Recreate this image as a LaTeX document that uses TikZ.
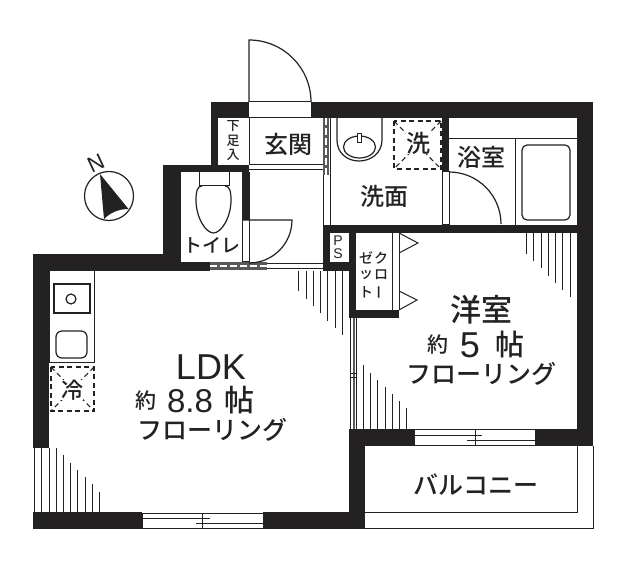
\documentclass[tikz,border=0pt]{standalone}
\usepackage{fontspec}
\setmainfont{Liberation Sans}
\newfontfamily\jpfont{Noto Sans CJK JP Medium}
\usetikzlibrary{arrows.meta, calc}
\definecolor{wallBlack}{RGB}{35,33,34}
\tikzset{
	wall/.style={fill=wallBlack},
	thinline/.style={wallBlack, line width=1pt},
	fixture/.style={wallBlack, line width=1.2pt},
	hatch/.style={wallBlack, line width=1pt},
	dashbox/.style={wallBlack, line width=1.1pt, dash pattern=on 5pt off 3.5pt},
	jplabel/.style={font=\jpfont\fontsize{#1}{#1}\selectfont, text=wallBlack, inner sep=0pt},
	latlabel/.style={font=\fontsize{#1}{#1}\selectfont, text=wallBlack, inner sep=0pt}
}
\begin{document}
\begin{tikzpicture}[x=1pt, y=-1pt, line cap=butt]
	\useasboundingbox (0,0) rectangle (640,561);
	\fill[white] (0,0) rectangle (640,561);
	% walls
	\fill[wall] (211,102) rectangle (249,118);
	\fill[wall] (211,102) rectangle (218,172);
	\fill[wall] (163,165) rectangle (249,172);
	\fill[wall] (163,165) rectangle (181,271);
	\fill[wall] (242,165) rectangle (249,220);
	\fill[wall] (33,254) rectangle (181,271);
	\fill[wall] (181,262) rectangle (210,271);
	\fill[wall] (33,254) rectangle (49,448);
	\fill[wall] (33,512) rectangle (142,529);
	\fill[wall] (263,512) rectangle (365,529);
	\fill[wall] (349,429) rectangle (365,529);
	\fill[wall] (349,429) rectangle (414,446);
	\fill[wall] (535,429) rectangle (593,446);
	\fill[wall] (311,102) rectangle (593,118);
	\fill[wall] (577,102) rectangle (593,446);
	\fill[wall] (323,225) rectangle (593,233);
	\fill[wall] (323,225) rectangle (330,271);
	\fill[wall] (349,233) rectangle (356,318);
	\fill[wall] (323,262) rectangle (356,271);
	\fill[wall] (350,310) rectangle (399,318);
	\fill[wall] (442,118) rectangle (449,172);
	% sliding doors
	\fill[wallBlack!75] (323,118) rectangle (329,175);
	\draw[white, line width=1.2pt, dash pattern=on 7pt off 3pt] (326,118) -- (326,175);
	\fill[wallBlack!75] (210,262) rectangle (267,270);
	\draw[white, line width=1.8pt, dash pattern=on 7pt off 3pt] (210,266) -- (267,266);
	\draw[thinline] (267,263.5) -- (323,263.5);
	\draw[thinline] (267,269) -- (323,269);
	\draw[thinline] (323,175) -- (323,225);
	\draw[thinline] (330,118) -- (330,225);
	% entry door
	\draw[thinline] (249,102) -- (311,102);
	\draw[thinline] (249,118) -- (311,118);
	\draw[fixture] (249,102) -- (249,40) arc [start angle=-90, end angle=0, radius=62];
	\draw[thinline] (249,118) -- (249,165);
	\draw[thinline] (249,164.5) -- (323,164.5);
	\draw[thinline] (249,170) -- (323,170);
	\draw[thinline] (249,172) -- (249,262);
	% toilet
	\draw[thinline] (199,172) -- (199,186) -- (229,186) -- (229,172);
	\draw[fixture] (202,186) .. controls (197,186) and (196,192) .. (196,200) .. controls (196,218) and (206,233) .. (213.5,233) .. controls (221,233) and (231,218) .. (231,200) .. controls (231,192) and (230,186) .. (225,186);
	\draw[thinline] (242,220) -- (242,262) -- (249,262);
	\draw[fixture] (242,220) -- (292,220) arc [start angle=0, end angle=90, radius=43];
	% wash room
	\draw[fixture] (337,118) -- (337,140) .. controls (337,153) and (347,161) .. (359,161) .. controls (371,161) and (382,153) .. (382,140) -- (382,118);
	\draw[fixture] (359.5,147) ellipse [x radius=16, y radius=11];
	\draw[thinline, fill=white] (357.5,134) rectangle (361.5,143);
	\draw[dashbox] (394,121) rectangle (441,169);
	\draw[dashbox] (394,121) -- (441,169);
	\draw[dashbox] (441,121) -- (394,169);
	\draw[thinline] (442,172) rectangle (449,225);
	\draw[fixture] (449,172) arc [start angle=-90, end angle=0, radius=52];
	% bath
	\draw[thinline] (449,139) -- (577,139);
	\draw[thinline] (515,139) -- (515,225);
	\draw[fixture, rounded corners=5pt] (522,145) rectangle (570,220);
	% closet
	\draw[thinline] (392,233) -- (392,310);
	\draw[thinline] (399,233) -- (399,310);
	\draw[thinline] (399,233) -- (418,243) -- (399,253);
	\draw[thinline] (399,291) -- (417,300) -- (399,310);
	% kitchen
	\draw[thinline] (49,271) rectangle (94,362);
	\draw[fixture] (54,284) rectangle (90,313);
	\draw[fixture] (71,299) circle (5);
	\draw[fixture, rounded corners=6pt] (56,331) rectangle (87,358);
	\draw[dashbox] (51,367) rectangle (94,411);
	\draw[dashbox] (51,367) -- (94,411);
	\draw[dashbox] (94,367) -- (51,411);
	% hatching
	\foreach \xh/\yh in {34/448,41/448,49/448,56/448,63/455,70/463,77/470,85/477,92/484,99/492}
		\draw[hatch] (\xh,\yh) -- (\xh,512);
	\foreach \xh/\yh in {298/291,306/299,313/306,320/313,327/321,335/328,342/335}
		\draw[hatch] (\xh,271) -- (\xh,\yh);
	\foreach \xh/\yh in {526/254,533/261,541/268,548/276,555/283,562/290,570/297}
		\draw[hatch] (\xh,233) -- (\xh,\yh);
	\foreach \xh/\yh in {356/318,363/365,370/373,377/380,385/387,392/394,399/401,406/408}
		\draw[hatch] (\xh,\yh) -- (\xh,429);
	% window to the west room
	\draw[thinline] (350,318) -- (350,429);
	\draw[wallBlack!75, line width=2pt] (353.5,318) -- (353.5,429);
	\draw[thinline] (356,318) -- (356,429);
	\draw[thinline] (350,373) -- (356,373);
	\draw[thinline] (350,377) -- (356,377);
	% windows
	\draw[thinline] (142,513) rectangle (263,528);
	\draw[thinline] (142,518) -- (210,518);
	\draw[thinline] (196,523.5) -- (263,523.5);
	\draw[thinline] (202.5,513) -- (202.5,528);
	\draw[thinline] (414,429.5) rectangle (535,445);
	\draw[thinline] (414,435) -- (482,435);
	\draw[thinline] (467,440) -- (535,440);
	\draw[thinline] (475,429.5) -- (475,445);
	% balcony
	\draw[thinline] (365,512) -- (577,512) -- (577,446);
	\draw[thinline] (365,528) -- (593,528) -- (593,446);
	% compass
	\draw[fixture] (109,196) circle (24.5);
	\fill[wallBlack] (100,174) -- (128.5,209) .. controls (118,209) and (110,213) .. (104,219) -- cycle;
	\node[latlabel=22, rotate=25] (north) at (96,163) {N};
	% labels
	\node[jplabel=24] (genkan) at (288,144) {玄関};
	\node[jplabel=24] (senmen) at (384,196) {洗面};
	\node[jplabel=24] (yokushitsu) at (481,157) {浴室};
	\node[jplabel=24, fill=white] (sentaku) at (418,143) {洗};
	\node[jplabel=22, fill=white] (reizo) at (72,390) {冷};
	\node[jplabel=19] (toire) at (212,245) {トイレ};
	\node[jplabel=13] (geta1) at (233,126) {下};
	\node[jplabel=13] (geta2) at (233,141) {足};
	\node[jplabel=13] (geta3) at (233,155) {入};
	\node[latlabel=14] (ps1) at (338,241) {P};
	\node[latlabel=14] (ps2) at (338,254) {S};
	\node[jplabel=14] (clo1) at (381,258) {ク};
	\node[jplabel=14] (clo2) at (381,275) {ロ};
	\node[jplabel=14, rotate=90] (clo3) at (381,293) {ー};
	\node[jplabel=14] (zet1) at (366,258) {ゼ};
	\node[jplabel=14] (zet2) at (366,275) {ッ};
	\node[jplabel=14] (zet3) at (366,292) {ト};
	\node[jplabel=31] (yoshitsu) at (481,310) {洋室};
	\node[jplabel=21] (yaku1) at (438,345) {約};
	\node[latlabel=36] (five) at (470,345) {5};
	\node[jplabel=29] (jo1) at (510,344) {帖};
	\node[jplabel=25] (floor1) at (481,374) {フローリング};
	\node[latlabel=36] (ldk) at (211,367) {LDK};
	\node[jplabel=21] (yaku2) at (146,401) {約};
	\node[latlabel=33] (eight) at (190,401) {8.8};
	\node[jplabel=30] (jo2) at (239,400) {帖};
	\node[jplabel=25] (floor2) at (212,430) {フローリング};
	\node[jplabel=25] (balcony) at (476,485) {バルコニー};
\end{tikzpicture}
\end{document}
